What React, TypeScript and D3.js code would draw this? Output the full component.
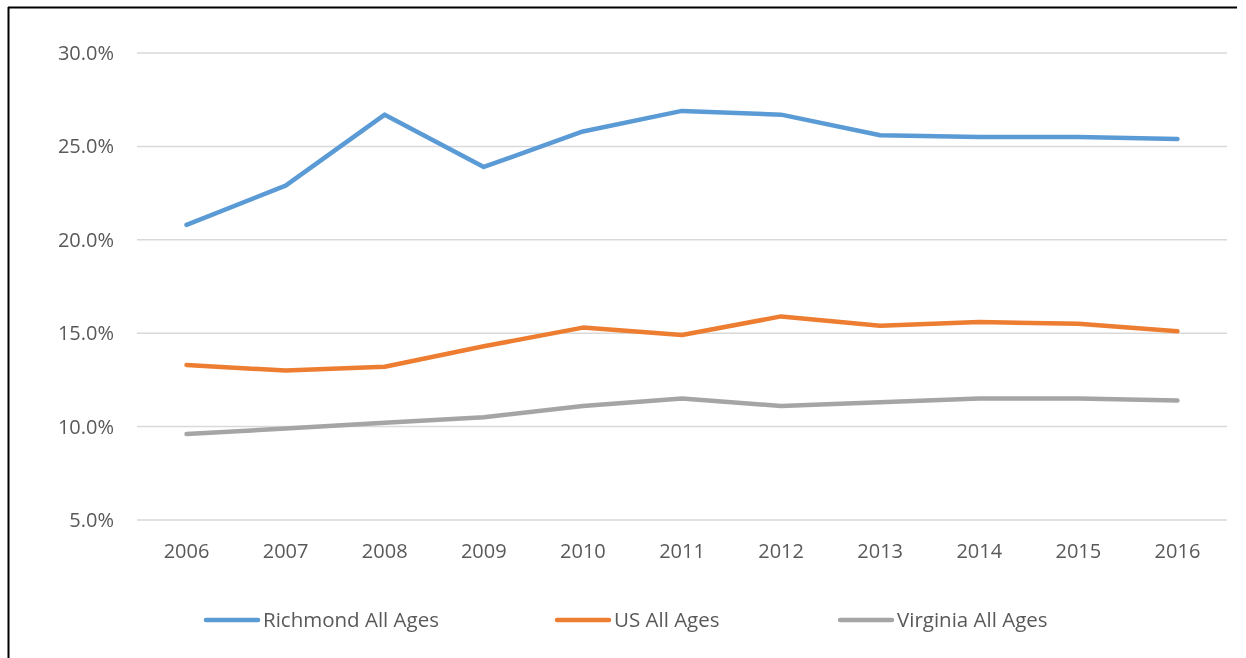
import React, { useEffect, useRef } from "react";
import * as d3 from "d3";

const years = ["2006", "2007", "2008", "2009", "2010", "2011", "2012", "2013", "2014", "2015", "2016"];
const richmond = [20.8, 22.9, 26.7, 23.9, 25.8, 26.9, 26.7, 25.6, 25.5, 25.5, 25.4];
const usAll = [13.3, 13.0, 13.2, 14.3, 15.3, 14.9, 15.9, 15.4, 15.6, 15.5, 15.1];
const virginia = [9.6, 9.9, 10.2, 10.5, 11.1, 11.5, 11.1, 11.3, 11.5, 11.5, 11.4];
const yTicks = [5, 10, 15, 20, 25, 30];
const seriesNames = ["Richmond All Ages", "US All Ages", "Virginia All Ages"];

const W = 1246, H = 658;
const FONT = "'Open Sans', 'Noto Sans', sans-serif";

const App = () => {
  const ref = useRef<SVGSVGElement>(null);

  useEffect(() => {
    const svg = d3.select(ref.current);
    svg.selectAll("*").remove();

    // frame lines
    svg.append("line").attr("x1", 8.5).attr("x2", 8.5).attr("y1", 7).attr("y2", H).attr("stroke", "#000").attr("stroke-width", 2);
    svg.append("line").attr("x1", 8).attr("x2", 1237).attr("y1", 7.5).attr("y2", 7.5).attr("stroke", "#000").attr("stroke-width", 2);

    const left = 137, right = 1227, top = 53, bottom = 520;
    const x = d3.scaleBand().domain(years).range([left, right]);
    const y = d3.scaleLinear().domain([5, 30]).range([bottom, top]);

    const grid = svg.append("g");
    grid.selectAll("line").data(yTicks).join("line")
      .attr("x1", left).attr("x2", right)
      .attr("y1", (d) => y(d)).attr("y2", (d) => y(d))
      .attr("stroke", "#D9D9D9").attr("stroke-width", 1.5);

    svg.append("g").selectAll("text").data(yTicks).join("text")
      .attr("x", 114).attr("y", (d) => y(d)).attr("dy", "0.35em")
      .attr("text-anchor", "end").attr("font-family", FONT).attr("font-size", 20).attr("fill", "#595959")
      .text((d) => d3.format(".1f")(d) + "%");

    svg.append("g").selectAll("text").data(years).join("text")
      .attr("x", (d) => x(d)! + x.bandwidth() / 2).attr("y", 551).attr("dy", "0.35em")
      .attr("text-anchor", "middle").attr("font-family", FONT).attr("font-size", 20).attr("fill", "#595959")
      .text((d) => d);

    const series = [
      { name: seriesNames[0], values: richmond, color: "#5B9BD5" },
      { name: seriesNames[1], values: usAll, color: "#ED7D31" },
      { name: seriesNames[2], values: virginia, color: "#A5A5A5" },
    ];

    const line = d3.line<number>()
      .x((_, i) => x(years[i])! + x.bandwidth() / 2)
      .y((d) => y(d));

    series.forEach((s) => {
      svg.append("path").datum(s.values).attr("d", line)
        .attr("fill", "none").attr("stroke", s.color).attr("stroke-width", 4.5)
        .attr("stroke-linejoin", "round").attr("stroke-linecap", "round");
    });

    const legendX = [206, 557, 840];
    const lg = svg.append("g");
    series.forEach((s, i) => {
      lg.append("line").attr("x1", legendX[i]).attr("x2", legendX[i] + 52).attr("y1", 620).attr("y2", 620)
        .attr("stroke", s.color).attr("stroke-width", 4.5).attr("stroke-linecap", "round");
      lg.append("text").attr("x", legendX[i] + 57).attr("y", 620).attr("dy", "0.35em")
        .attr("font-family", FONT).attr("font-size", 20.5).attr("fill", "#595959").text(s.name);
    });
  }, []);

  return (
    <div style={{ position: "fixed", left: 0, top: 0 }}>
      <svg ref={ref} width={W} height={H} />
    </div>
  );
};

export default App;
